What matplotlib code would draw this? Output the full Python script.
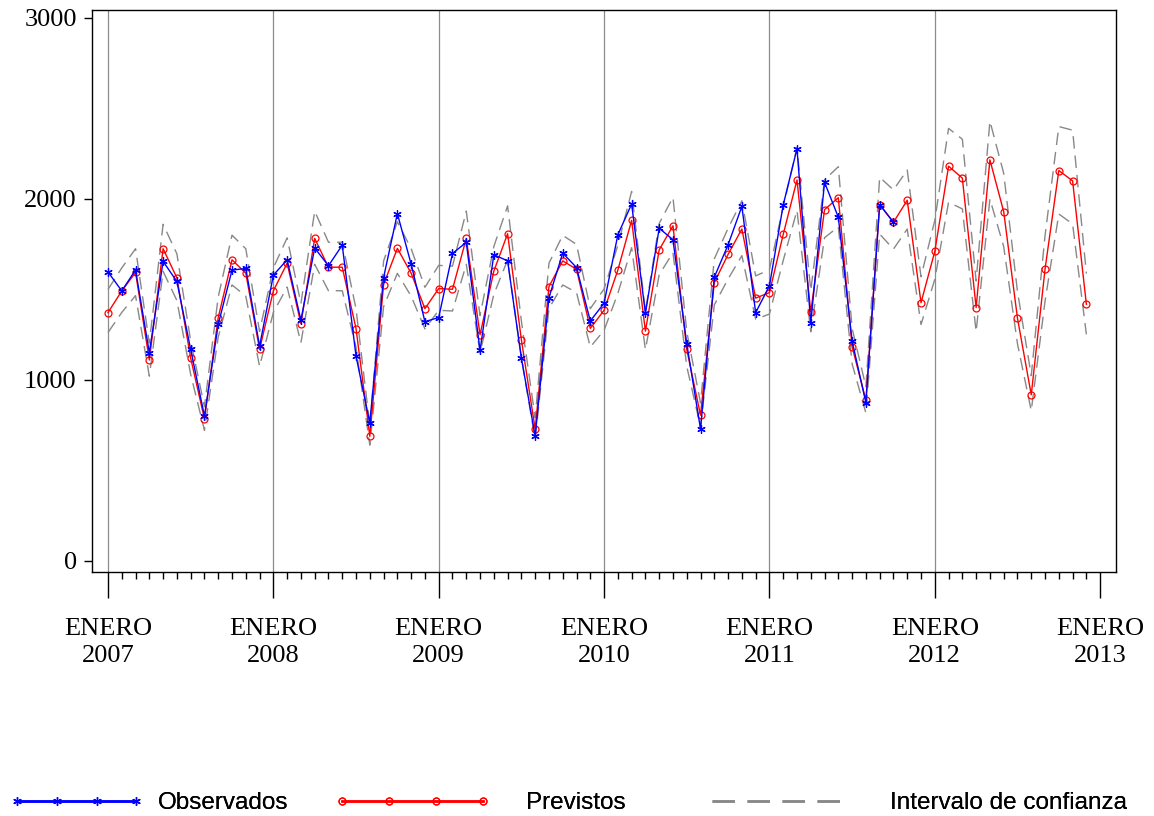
import matplotlib
matplotlib.use("Agg")
import matplotlib.pyplot as plt
from matplotlib.ticker import FixedLocator

# meses desde enero 2007 (0) hasta diciembre 2012 (71)
anios = ["2007", "2008", "2009", "2010", "2011", "2012", "2013"]

observados = [1597, 1492, 1608, 1151, 1655, 1544, 1169, 800, 1307, 1607, 1616, 1187,
              1579, 1664, 1330, 1729, 1631, 1745, 1132, 763, 1566, 1919, 1640, 1322,
              1345, 1699, 1760, 1163, 1692, 1658, 1121, 689, 1455, 1701, 1621, 1326,
              1424, 1802, 1972, 1368, 1838, 1775, 1200, 729, 1568, 1747, 1959, 1372,
              1520, 1967, 2277, 1317, 2092, 1899, 1215, 874, 1969, 1871]

previstos = [1372, 1492, 1594, 1110, 1725, 1564, 1121, 785, 1345, 1664, 1590, 1169,
             1492, 1645, 1311, 1782, 1623, 1623, 1284, 689, 1527, 1727, 1590, 1394,
             1505, 1501, 1782, 1250, 1601, 1808, 1221, 729, 1516, 1658, 1612, 1285,
             1385, 1607, 1882, 1270, 1719, 1852, 1169, 805, 1538, 1694, 1834, 1452,
             1483, 1804, 2105, 1376, 1941, 2007, 1184, 888, 1969, 1871, 1993, 1427,
             1710, 2181, 2115, 1400, 2216, 1930, 1341, 918, 1612, 2157, 2100, 1418]

superior = [1500, 1619, 1725, 1204, 1860, 1697, 1216, 852, 1459, 1800, 1725, 1268,
            1619, 1785, 1422, 1933, 1761, 1761, 1393, 748, 1657, 1874, 1725, 1512,
            1633, 1629, 1933, 1356, 1737, 1962, 1325, 791, 1645, 1799, 1749, 1394,
            1503, 1744, 2042, 1378, 1865, 2009, 1268, 873, 1669, 1838, 1990, 1575,
            1609, 1957, 2284, 1493, 2106, 2178, 1285, 963, 2120, 2050, 2160, 1570,
            1881, 2390, 2330, 1547, 2430, 2142, 1489, 1024, 1797, 2400, 2380, 1588]

inferior = [1262, 1373, 1466, 1021, 1600, 1439, 1031, 722, 1237, 1525, 1463, 1075,
            1373, 1513, 1206, 1639, 1493, 1493, 1181, 640, 1405, 1589, 1463, 1282,
            1385, 1381, 1639, 1150, 1473, 1663, 1123, 671, 1395, 1525, 1483, 1182,
            1274, 1478, 1731, 1168, 1581, 1704, 1075, 741, 1415, 1558, 1687, 1336,
            1364, 1660, 1937, 1266, 1786, 1846, 1089, 817, 1806, 1723, 1834, 1306,
            1556, 1982, 1945, 1267, 2000, 1737, 1200, 830, 1435, 1917, 1862, 1252]

mes_obs = list(range(len(observados)))
mes_prev = list(range(len(previstos)))

serif = ["Liberation Serif", "DejaVu Serif"]
sans = ["Liberation Sans", "DejaVu Sans"]

fig = plt.figure(figsize=(11.54, 8.16), dpi=100)
ax = fig.add_axes([92 / 1154, 1 - 572 / 816, (1116 - 92) / 1154, (572 - 10) / 816])

# lineas verticales en cada enero (sin la de 2013)
for k in range(len(anios) - 1):
    ax.axvline(12 * k, color="#8c8c8c", lw=0.9, zorder=0)

l_ic, = ax.plot(mes_prev, superior, color="#888888", lw=1.0, dashes=(9, 5), zorder=1)
ax.plot(mes_prev, inferior, color="#888888", lw=1.0, dashes=(9, 5), zorder=1)
l_obs, = ax.plot(mes_obs, observados, color="blue", lw=1.0, marker=(6, 2, 0),
                 ms=6, mew=0.9, zorder=3)
l_prev, = ax.plot(mes_prev, previstos, color="red", lw=1.0, marker="o", ms=5,
                  mfc="none", mew=0.9, zorder=2)

ax.set_xlim(-1.16, 73.15)
ax.set_ylim(-61, 3044)

ax.set_yticks([0, 1000, 2000, 3000])
ax.set_yticklabels(["0", "1000", "2000", "3000"], family=serif, fontsize=19)
ax.tick_params(axis="y", direction="out", length=6, width=1, pad=5)

ax.xaxis.set_major_locator(FixedLocator([12 * k for k in range(len(anios))]))
ax.xaxis.set_minor_locator(FixedLocator(list(range(73))))
ax.set_xticklabels(["ENERO\n" + a for a in anios], family=serif, fontsize=19,
                   linespacing=1.3)
ax.tick_params(axis="x", which="major", direction="out", length=19, width=1, pad=14)
ax.tick_params(axis="x", which="minor", direction="out", length=5, width=1)

for s in ax.spines.values():
    s.set_linewidth(1.0)

# leyenda abajo
y_ley = 13 / 816
for h, txt, x0, largo, pad in [(l_obs, "Observados", 10 / 1154, 5.5, 0.58),
                               (l_prev, "Previstos", 335 / 1154, 6.4, 1.44),
                               (l_ic, "Intervalo de confianza", 705 / 1154, 6.2, 1.4)]:
    lg = fig.legend([h], [txt], loc="center left", bbox_to_anchor=(x0, y_ley),
                    frameon=False, handlelength=largo, handletextpad=pad,
                    numpoints=4, borderpad=0, borderaxespad=0,
                    prop={"family": sans, "size": 17.5})
    for lh in lg.legend_handles:
        lh.set_linewidth(1.8)
    fig.add_artist(lg)

fig.savefig("out.png", dpi=100)
